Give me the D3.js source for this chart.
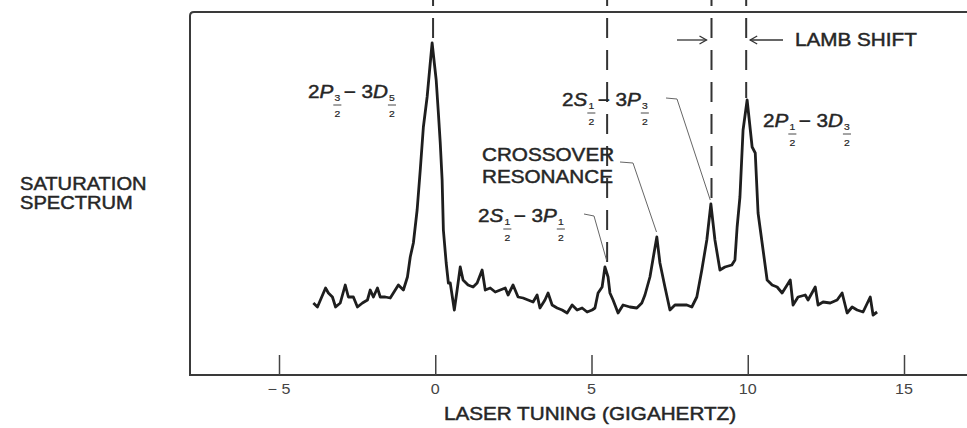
<!DOCTYPE html>
<html><head><meta charset="utf-8">
<script src="https://cdn.jsdelivr.net/npm/d3@7"></script>
<style>
body{margin:0;background:#fff}
text{font-family:"Liberation Sans",Arial,Helvetica,sans-serif;fill:#262626;stroke:#262626;stroke-width:0.45px}
</style></head>
<body><svg id="c" width="967" height="428"></svg>
<script>
// ---- data ----
const ghz = [-3.90,-3.77,-3.51,-3.42,-3.29,-3.19,-3.04,-2.88,-2.78,-2.62,-2.49,-2.33,-2.17,-2.08,-1.98,-1.85,-1.76,-1.60,-1.44,-1.34,-1.18,-1.02,-0.89,-0.80,-0.70,-0.58,-0.48,-0.38,-0.26,-0.16,-0.10,-0.03,0.03,0.10,0.16,0.22,0.26,0.35,0.42,0.48,0.61,0.70,0.80,0.89,1.05,1.21,1.34,1.50,1.60,1.76,1.92,2.08,2.24,2.33,2.49,2.65,2.81,2.97,3.13,3.26,3.35,3.51,3.61,3.74,3.90,4.06,4.22,4.38,4.54,4.70,4.86,5.02,5.11,5.21,5.34,5.43,5.53,5.59,5.69,5.85,6.01,6.23,6.45,6.61,6.71,6.87,6.99,7.09,7.19,7.35,7.51,7.67,7.89,8.05,8.21,8.37,8.53,8.69,8.82,8.95,9.11,9.27,9.49,9.59,9.66,9.75,9.85,9.98,10.14,10.24,10.33,10.46,10.62,10.78,10.94,11.10,11.36,11.45,11.61,11.84,11.93,12.16,12.25,12.41,12.64,12.86,13.02,13.18,13.34,13.50,13.69,13.92,14.01,14.14];
const signal = [72,68,87,82,78,68,72,90,78,78,68,72,75,85,78,87,78,78,77,82,90,85,98,118,132,165,205,248,278,312,332,312,295,262,232,195,145,112,92,92,65,85,108,95,90,88,92,105,85,87,83,85,87,80,90,78,77,75,73,80,67,75,82,70,67,65,62,70,65,67,63,65,67,82,88,108,98,82,75,62,70,68,67,72,80,98,120,138,112,88,65,70,70,70,68,78,105,135,171,135,105,108,110,115,148,178,245,275,228,222,162,132,95,90,88,82,95,70,78,80,75,88,70,73,72,75,82,62,68,65,63,78,60,63];
const tickValues = [-5, 0, 5, 10, 15];
const tickLabels = ["\u2212 5", "0", "5", "10", "15"];
const markerGhz = [-0.07, 5.50, 8.84, 9.95];
const markerTop = [333, 108, 171, 277];
const xTitle = "LASER TUNING (GIGAHERTZ)";
const yTitle = ["SATURATION", "SPECTRUM"];
const lambText = "LAMB SHIFT";
const crossText = ["CROSSOVER", "RESONANCE"];
// transition labels: [text, italic?] pieces and fractions
const labelA = [["2",0],["P",1],["3/2","f"],[" \u2212 3",0],["D",1],["5/2","f"]];
const labelB = [["2",0],["S",1],["1/2","f"],["\u2212 3",0],["P",1],["1/2","f"]];
const labelC = [["2",0],["S",1],["1/2","f"],[" \u2212 3",0],["P",1],["3/2","f"]];
const labelD = [["2",0],["P",1],["1/2","f"],[" \u2212 3",0],["D",1],["3/2","f"]];

// ---- layout ----
const svg = d3.select("#c");
const W = 967, H = 428;
const frameL = 190, frameT = 12, frameB = 375;
const x = d3.scaleLinear().domain([-5, 15]).range([279, 904]);
const y = d3.scaleLinear().domain([0, 363]).range([frameB, frameT]);
const SX = 1.15, FS = 18;
const ink = "#2b2b2b";

// frame
svg.append("path")
  .attr("d", `M${W+5},${frameT} L${frameL+4},${frameT} Q${frameL},${frameT} ${frameL},${frameT+4} L${frameL},${frameB} L${W+5},${frameB}`)
  .attr("fill", "none").attr("stroke", "#3a3a3a").attr("stroke-width", 2);

// ticks
const xAxis = d3.axisTop(x).tickValues(tickValues).tickSize(20).tickFormat("");
const ax = svg.append("g").attr("transform", `translate(0,${frameB})`).call(xAxis);
ax.select(".domain").remove();
ax.selectAll(".tick line").attr("stroke", "#444").attr("stroke-width", 1.5);
tickValues.forEach((v, i) => {
  svg.append("text").attr("transform", `translate(${x(v)},394) scale(${SX},1)`)
    .attr("text-anchor", "middle").attr("font-size", 14)
    .style("fill", "#444").style("stroke", "none")
    .text(tickLabels[i]);
});
svg.append("text").attr("transform", `translate(590,420) scale(${SX},1)`)
  .attr("text-anchor", "middle").attr("font-size", FS).text(xTitle);
yTitle.forEach((t, i) => {
  svg.append("text").attr("transform", `translate(20,${190 + i * 19}) scale(${SX},1)`)
    .attr("font-size", 17.5).text(t);
});

// dashed marker lines
markerGhz.forEach((g, i) => {
  svg.append("line").attr("x1", x(g)).attr("x2", x(g))
    .attr("y1", 0).attr("y2", y(markerTop[i]))
    .attr("stroke", "#333").attr("stroke-width", 2)
    .attr("stroke-dasharray", "20,12").attr("stroke-dashoffset", 14);
});

// spectrum trace
const pts = ghz.map((g, i) => [g, signal[i]]);
svg.append("path").datum(pts)
  .attr("d", d3.line().x(d => x(d[0])).y(d => y(d[1])))
  .attr("fill", "none").attr("stroke", "#1e1e1e").attr("stroke-width", 2.8)
  .attr("stroke-linejoin", "round");

// label builder
function drawLabel(tx, ty, parts) {
  const g = svg.append("g").attr("transform", `translate(${tx},${ty}) scale(${SX},1)`);
  let cx = 0;
  parts.forEach(p => {
    if (p[1] === "f") {
      const [n, d] = p[0].split("/");
      const t1 = g.append("text").attr("x", cx + 1).attr("y", 3).attr("font-size", 9)
        .style("stroke-width", 0.2).text(n);
      const w = Math.max(t1.node().getComputedTextLength(), 5);
      g.append("line").attr("x1", cx).attr("x2", cx + w + 2).attr("y1", 7).attr("y2", 7)
        .attr("stroke", ink).attr("stroke-width", 0.8);
      g.append("text").attr("x", cx + 1).attr("y", 19).attr("font-size", 9)
        .style("stroke-width", 0.2).text(d);
      cx += w + 4;
    } else {
      const t = g.append("text").attr("x", cx).attr("y", 0).attr("font-size", FS)
        .attr("font-style", p[1] ? "italic" : "normal").text(p[0]);
      cx += t.node().getComputedTextLength();
    }
  });
}
drawLabel(308, 98, labelA);
drawLabel(478, 222, labelB);
drawLabel(562, 106, labelC);
drawLabel(763, 127, labelD);
crossText.forEach((t, i) => {
  svg.append("text").attr("transform", `translate(482,${161 + i * 22}) scale(${SX},1)`)
    .attr("font-size", FS).text(t);
});

// leader lines
const lead = d3.line();
svg.append("path").attr("d", lead([[584,214],[594,216],[x(5.48), y(115)]]))
  .attr("fill","none").attr("stroke","#666").attr("stroke-width",1);
svg.append("path").attr("d", lead([[620,162],[633,163],[x(7.08), y(143)]]))
  .attr("fill","none").attr("stroke","#666").attr("stroke-width",1);
svg.append("path").attr("d", lead([[666,98],[677,99],[x(8.8), y(175)]]))
  .attr("fill","none").attr("stroke","#666").attr("stroke-width",1);

// Lamb shift arrows
function arrow(x1, x2, yy) {
  const dir = Math.sign(x2 - x1);
  svg.append("line").attr("x1", x1).attr("x2", x2).attr("y1", yy).attr("y2", yy)
    .attr("stroke", "#333").attr("stroke-width", 1.3);
  svg.append("path").attr("d", `M${x2 - dir*7},${yy-4} L${x2},${yy} L${x2 - dir*7},${yy+4}`)
    .attr("fill", "none").attr("stroke", "#333").attr("stroke-width", 1.3);
}
arrow(677, x(8.84) - 5, 40);
arrow(783, x(9.95) + 4, 40);
svg.append("text").attr("transform", `translate(795,46) scale(${SX},1)`)
  .attr("font-size", FS).text(lambText);
</script></body></html>
